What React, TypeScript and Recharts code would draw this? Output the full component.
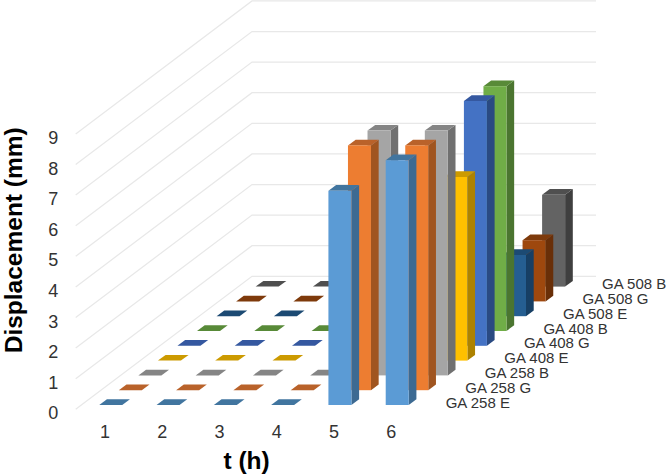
import { BarChart, Bar, XAxis, YAxis, CartesianGrid } from "recharts";

const times = ["1", "2", "3", "4", "5", "6"];
const seriesNames = ["GA 258 E", "GA 258 G", "GA 258 B", "GA 408 E", "GA 408 G", "GA 408 B", "GA 508 E", "GA 508 G", "GA 508 B"];
const ga258e = [0, 0, 0, 0, 7, 8];
const ga258g = [0, 0, 0, 0, 8, 8];
const ga258b = [0, 0, 0, 0, 8, 8];
const ga408e = [0, 0, 0, 0, 0, 6];
const ga408g = [0, 0, 0, 0, 0, 8];
const ga408b = [0, 0, 0, 0, 0, 8];
const ga508e = [0, 0, 0, 0, 0, 2];
const ga508g = [0, 0, 0, 0, 0, 2];
const ga508b = [0, 0, 0, 0, 0, 3];
const allValues = [ga258e, ga258g, ga258b, ga408e, ga408g, ga408b, ga508e, ga508g, ga508b];
const yTicks = [0, 1, 2, 3, 4, 5, 6, 7, 8, 9];

// front, side, top
const palette = [
  ["#5B9BD5", "#3D6A92", "#41759F"],
  ["#ED7D31", "#A05520", "#B9622A"],
  ["#A5A5A5", "#707070", "#858585"],
  ["#FFC000", "#AD8200", "#CC9A00"],
  ["#4472C4", "#2A4A82", "#3558A0"],
  ["#70AD47", "#4B7530", "#588A38"],
  ["#255E91", "#173F64", "#1C4A73"],
  ["#9E480E", "#692F08", "#7E3A0B"],
  ["#636363", "#3F3F3F", "#4F4F4F"],
];

const STEP_X = 19.55;
const STEP_Y = -14.8;
const DEPTH_X = 7.7;
const DEPTH_Y = -5.7;
const BAR_W = 23;

const data = times.map((t, i) => {
  const row: Record<string, string | number> = { t };
  seriesNames.forEach((name, s) => {
    row[name] = allValues[s][i];
  });
  return row;
});

const makeShape = (s: number) => (props: any) => {
  const { x, y, width, height, index } = props;
  const [front, side, top] = palette[s];
  const left = x + s * STEP_X;
  const right = left + width;
  const topY = y + s * STEP_Y;
  const baseY = topY + height;
  return (
    <g>
      <polygon
        points={`${right},${topY} ${right + DEPTH_X},${topY + DEPTH_Y} ${right + DEPTH_X},${baseY + DEPTH_Y} ${right},${baseY}`}
        fill={side}
      />
      <polygon
        points={`${left},${topY} ${left + DEPTH_X},${topY + DEPTH_Y} ${right + DEPTH_X},${topY + DEPTH_Y} ${right},${topY}`}
        fill={top}
      />
      {height > 0 && <rect x={left} y={topY} width={width} height={height} fill={front} />}
      {index === times.length - 1 && (
        <text x={x + width + 37 + s * STEP_X} y={baseY + 2.5} fontSize={15} fill="#333">
          {seriesNames[s]}
        </text>
      )}
    </g>
  );
};

const wallLine = (props: any) => {
  const { y1, key } = props;
  const startX = 75.7;
  const startY = y1 + 4.3;
  const cornerX = 252;
  const cornerY = startY - 133;
  return (
    <polyline
      key={key}
      points={`${startX},${startY} ${cornerX},${cornerY} 596,${cornerY}`}
      fill="none"
      stroke="#E8E8E8"
      strokeWidth={1.25}
    />
  );
};

export default function App() {
  return (
    <div style={{ position: "absolute", left: 0, top: 0, width: 666, height: 475, background: "#fff" }}>
      <BarChart
        width={666}
        height={475}
        data={data}
        margin={{ top: 129.6, right: 240, bottom: 0, left: 22.25 }}
        barSize={BAR_W}
        barGap={-BAR_W}
        style={{ fontFamily: "Liberation Sans, Arial, sans-serif" }}
      >
        <CartesianGrid horizontal={wallLine} vertical={false} />
        <XAxis
          dataKey="t"
          axisLine={false}
          tickLine={false}
          tickSize={0}
          tickMargin={20}
          tick={{ fontSize: 18, fill: "#333", dx: -6 }}
          height={70}
          label={{ value: "t (h)", position: "insideBottom", offset: 6, dx: -7.5, fontSize: 24.5, fontWeight: 700, fill: "#000" }}
        />
        <YAxis
          domain={[0, 9]}
          ticks={yTicks}
          interval={0}
          axisLine={false}
          tickLine={false}
          tickSize={0}
          tickMargin={24}
          width={60}
          tick={{ fontSize: 18, fill: "#333", dy: 8 }}
          label={{ value: "Displacement (mm)", angle: -90, position: "insideLeft", offset: 0, dx: -9, dy: 86, fontSize: 24.5, fontWeight: 700, fill: "#000" }}
        />
        {seriesNames
          .map((name, s) => (
            <Bar key={name} dataKey={name} fill={palette[s][0]} isAnimationActive={false} shape={makeShape(s)} />
          ))
          .reverse()}
      </BarChart>
    </div>
  );
}
